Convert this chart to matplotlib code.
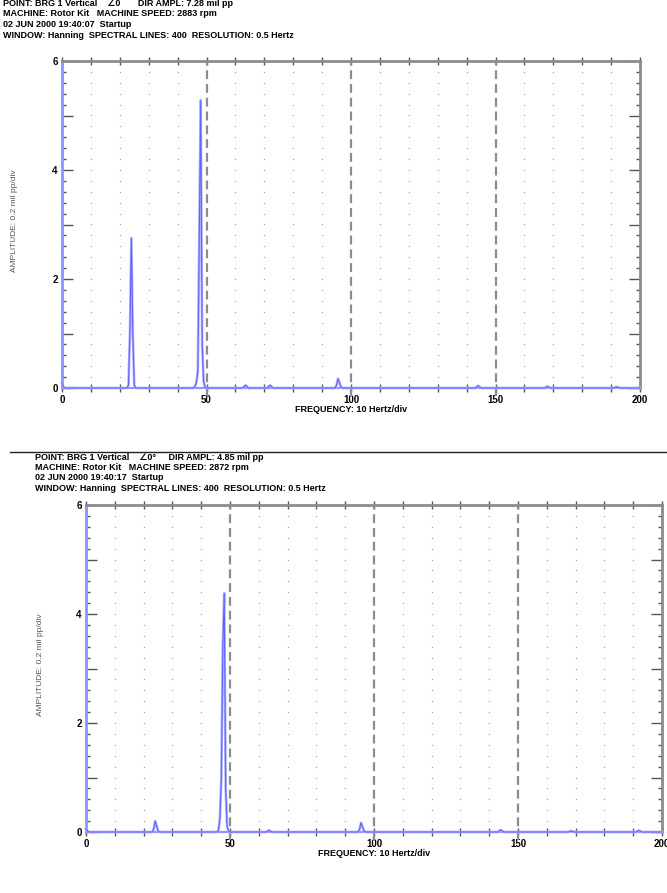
import numpy as np
import matplotlib
matplotlib.use("Agg")
import matplotlib.pyplot as plt
from matplotlib.ticker import MultipleLocator, FuncFormatter

# ---------------- data ----------------
top_header = ["POINT: BRG 1 Vertical    \u22200       DIR AMPL: 7.28 mil pp",
              "MACHINE: Rotor Kit   MACHINE SPEED: 2883 rpm",
              "02 JUN 2000 19:40:07  Startup",
              "WINDOW: Hanning  SPECTRAL LINES: 400  RESOLUTION: 0.5 Hertz"]
bot_header = ["POINT: BRG 1 Vertical    \u22200\u00b0     DIR AMPL: 4.85 mil pp",
              "MACHINE: Rotor Kit   MACHINE SPEED: 2872 rpm",
              "02 JUN 2000 19:40:17  Startup",
              "WINDOW: Hanning  SPECTRAL LINES: 400  RESOLUTION: 0.5 Hertz"]

top_freq = [0.0, 0.5, 1.0, 22.5, 23.0, 23.5, 24.0, 24.5, 25.0, 25.5,
            45.5, 46.0, 46.5, 47.0, 47.5, 48.0, 48.5, 49.0, 49.5, 50.0,
            62.5, 63.5, 64.5, 71.0, 72.0, 73.0, 94.5, 95.0, 95.5, 96.0, 96.5, 97.0,
            143.0, 144.0, 145.0, 167.0, 168.0, 169.0, 191.0, 192.0, 193.0, 200.0]
top_amp = [0.10, 0.02, 0.0, 0.0, 0.05, 1.0, 2.75, 1.0, 0.05, 0.0,
           0.0, 0.03, 0.1, 0.3, 2.8, 5.28, 0.8, 0.12, 0.02, 0.0,
           0.0, 0.05, 0.0, 0.0, 0.05, 0.0, 0.0, 0.05, 0.17, 0.1, 0.02, 0.0,
           0.0, 0.04, 0.0, 0.0, 0.03, 0.0, 0.0, 0.02, 0.0, 0.0]

bot_freq = [0.0, 0.5, 1.0, 23.0, 23.5, 24.0, 24.5, 25.0, 25.5,
            45.5, 46.0, 46.5, 47.0, 47.5, 48.0, 48.5, 49.0, 49.5, 50.0,
            62.5, 63.5, 64.5, 94.5, 95.0, 95.5, 96.0, 96.5, 97.0,
            143.0, 144.0, 145.0, 167.5, 168.5, 169.5, 191.0, 192.0, 193.0, 200.0]
bot_amp = [0.06, 0.02, 0.0, 0.0, 0.05, 0.2, 0.12, 0.02, 0.0,
           0.0, 0.03, 0.25, 1.0, 3.4, 4.38, 0.8, 0.1, 0.02, 0.0,
           0.0, 0.03, 0.0, 0.0, 0.05, 0.17, 0.1, 0.02, 0.0,
           0.0, 0.04, 0.0, 0.0, 0.02, 0.0, 0.0, 0.03, 0.0, 0.0]

x_labels = [0, 50, 100, 150, 200]
y_labels = [0, 2, 4, 6]
marker_lines = [50, 100, 150]

# ---------------- layout ----------------
W, H = 667, 893
fig = plt.figure(figsize=(W / 100, H / 100), dpi=100)
plt.rcParams['font.family'] = ['Liberation Sans', 'DejaVu Sans']

TRACE = '#6262ff'
GRAY = '#8c8c8c'


def px(x, y):
    return x / W, 1 - y / H


def panel(left_px, top_px, right_px, bot_px, freq, amp, header, hx, hy, ylab_x):
    ax = fig.add_axes([left_px / W, 1 - bot_px / H, (right_px - left_px) / W,
                       (bot_px - top_px) / H])
    ax.set_xlim(0, 200)
    ax.set_ylim(0, 6)
    # dotted grid
    gx = np.arange(10, 200, 10)
    gx = gx[~np.isin(gx, marker_lines)]
    gy = np.arange(0.2, 6.0, 0.2)
    GX, GY = np.meshgrid(gx, gy)
    ax.plot(GX.ravel(), GY.ravel(), linestyle='none', marker='s', ms=0.9,
            mec='none', mfc='#a8a8a8')
    for m in marker_lines:
        ax.plot([m, m], [-0.15, 6.0], color=GRAY, lw=1.6, dashes=(4, 2.2),
                clip_on=False, zorder=3)
    ax.plot(freq, amp, color='#b4b4ff', lw=1.9, clip_on=False, zorder=4)
    ax.plot(freq, amp, color=TRACE, lw=0.8, clip_on=False, zorder=5)

    for s in ['top', 'right']:
        ax.spines[s].set_color(GRAY)
        ax.spines[s].set_linewidth(2)
    ax.spines['left'].set_color('#9090ff')
    ax.spines['left'].set_linewidth(2)
    ax.spines['bottom'].set_color('#9090ff')
    ax.spines['bottom'].set_linewidth(1.5)

    ax.xaxis.set_major_locator(MultipleLocator(10))
    ax.xaxis.set_major_formatter(FuncFormatter(
        lambda v, p: f"{int(round(v))}" if int(round(v)) in x_labels else ""))
    ax.yaxis.set_major_locator(MultipleLocator(1))
    ax.yaxis.set_minor_locator(MultipleLocator(0.2))
    ax.yaxis.set_major_formatter(FuncFormatter(
        lambda v, p: f"{int(round(v))}" if int(round(v)) in y_labels else ""))
    ax.tick_params(axis='x', which='major', direction='inout', length=6,
                   width=1, color='#555555', top=True, labelsize=7, pad=2)
    ax.tick_params(axis='y', which='major', direction='in', length=8,
                   width=1, color='#555555', right=True, labelsize=7, pad=3)
    ax.tick_params(axis='y', which='minor', direction='in', length=3,
                   width=1, color='#555555', right=True)
    for lab in ax.get_xticklabels() + ax.get_yticklabels():
        lab.set_fontweight('bold')
    ax.set_xlabel("FREQUENCY: 10 Hertz/div", fontsize=6.5, fontweight='bold',
                  labelpad=0)
    fig.text(*px(ylab_x, (top_px + bot_px) / 2 - 4), "AMPLITUDE: 0.2 mil pp/div",
             rotation=90, fontsize=6.0, color='#555555', ha='center', va='center')
    for i, line in enumerate(header):
        fig.text(*px(hx, hy + i * 10.5), line, fontsize=6.5, fontweight='bold',
                 ha='left', va='center')
    return ax


panel(62, 61, 640, 388, top_freq, top_amp, top_header, 3, 3.5, 15)
panel(86, 505, 662, 832, bot_freq, bot_amp, bot_header, 35, 457, 40)

fig.add_artist(plt.Line2D([10 / W, 1.0], [1 - 452 / H, 1 - 452 / H],
                          color='#222222', lw=1))

fig.savefig("out.png", dpi=100)
